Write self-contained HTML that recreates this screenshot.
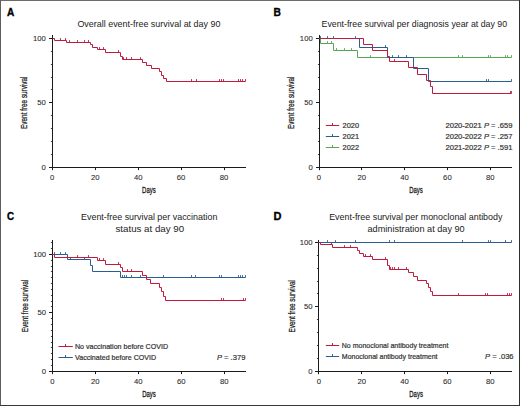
<!DOCTYPE html>
<html><head><meta charset="utf-8"><title>Event-free survival</title>
<style>html,body{margin:0;padding:0;background:#fff;width:520px;height:406px;overflow:hidden}
text{font-family:"Liberation Sans", sans-serif}</style></head><body>
<svg width="520" height="406" viewBox="0 0 520 406" style="display:block">
<g font-family='"Liberation Sans", sans-serif'>
<rect x="0" y="0" width="520" height="406" fill="#fff"/>
<path d="M52.5,35 V170.1" stroke="#1a1a1a" stroke-width="1" fill="none"/>
<path d="M52.0,167.5 H246" stroke="#1a1a1a" stroke-width="1" fill="none"/>
<path d=" M49.0,167.5 H52.5 M49.0,102.5 H52.5 M49.0,38.5 H52.5" stroke="#1a1a1a" stroke-width="1" fill="none"/>
<path d=" M50.9,154.5 H52.5 M50.9,141.5 H52.5 M50.9,128.5 H52.5 M50.9,115.5 H52.5 M50.9,89.5 H52.5 M50.9,77.5 H52.5 M50.9,64.5 H52.5 M50.9,51.5 H52.5" stroke="#1a1a1a" stroke-width="0.8" fill="none"/>
<path d=" M52.5,167.5 V170.1 M95.5,167.5 V170.1 M138.5,167.5 V170.1 M181.5,167.5 V170.1 M224.5,167.5 V170.1" stroke="#1a1a1a" stroke-width="1" fill="none"/>
<text x="45.900000000000006" y="170" font-size="7.7" text-anchor="end" font-weight="normal" fill="#2a2a2a" stroke="#2a2a2a" stroke-width="0.08">0</text>
<text x="45.900000000000006" y="105" font-size="7.7" text-anchor="end" font-weight="normal" fill="#2a2a2a" stroke="#2a2a2a" stroke-width="0.08">50</text>
<text x="45.900000000000006" y="41" font-size="7.7" text-anchor="end" font-weight="normal" fill="#2a2a2a" stroke="#2a2a2a" stroke-width="0.08">100</text>
<text x="52.2" y="180" font-size="7.7" text-anchor="middle" font-weight="normal" fill="#2a2a2a" stroke="#2a2a2a" stroke-width="0.08">0</text>
<text x="95.18" y="180" font-size="7.7" text-anchor="middle" font-weight="normal" fill="#2a2a2a" stroke="#2a2a2a" stroke-width="0.08">20</text>
<text x="138.16" y="180" font-size="7.7" text-anchor="middle" font-weight="normal" fill="#2a2a2a" stroke="#2a2a2a" stroke-width="0.08">40</text>
<text x="181.13" y="180" font-size="7.7" text-anchor="middle" font-weight="normal" fill="#2a2a2a" stroke="#2a2a2a" stroke-width="0.08">60</text>
<text x="224.11" y="180" font-size="7.7" text-anchor="middle" font-weight="normal" fill="#2a2a2a" stroke="#2a2a2a" stroke-width="0.08">80</text>
<text x="7.1" y="15.8" font-size="11" text-anchor="start" font-weight="bold" fill="#000" textLength="7.3" lengthAdjust="spacingAndGlyphs" stroke="#000" stroke-width="0.35">A</text>
<text x="148.9" y="27.4" font-size="9.8" text-anchor="middle" font-weight="normal" fill="#222" textLength="143" lengthAdjust="spacingAndGlyphs" >Overall event-free survival at day 90</text>
<text x="148.9" y="192.7" font-size="9.4" text-anchor="middle" fill="#1a1a1a" stroke="#1a1a1a" stroke-width="0.3" textLength="13.6" lengthAdjust="spacingAndGlyphs">Days</text>
<text transform="translate(27.0,102.7) rotate(-90)" x="0" y="0" font-size="9.3" text-anchor="middle" fill="#1a1a1a" stroke="#1a1a1a" stroke-width="0.25" textLength="52.4" lengthAdjust="spacingAndGlyphs">Event free survival</text>
<path d="M52.5,38.5 H54.5 V40.5 H66.5 V42.5 H90.5 V44.5 H92.5 V47.5 H97.5 V49.5 H105.5 V52.5 H120.5 V56.5 H122.5 V59.5 H142.5 V62.5 H146.5 V65.5 H151.5 V68.5 H159.5 V71.5 H161.5 V75.5 H163.5 V78.5 H166.5 V81.5 H245.5" fill="none" stroke="#c01b3e" stroke-width="1.0" stroke-linejoin="miter"/>
<path d="M60.5,40.5 v-2.4 M65.5,40.5 v-2.4" stroke="#c01b3e" stroke-width="0.9" fill="none"/>
<path d="M69.5,42.5 v-2.4 M77.5,42.5 v-2.4 M84.5,42.5 v-2.4 M88.5,42.5 v-2.4" stroke="#c01b3e" stroke-width="0.9" fill="none"/>
<path d="M99.5,49.5 v-2.4 M103.5,49.5 v-2.4" stroke="#c01b3e" stroke-width="0.9" fill="none"/>
<path d="M118.5,52.5 v-2.4" stroke="#c01b3e" stroke-width="0.9" fill="none"/>
<path d="M123.5,59.5 v-2.4 M126.5,59.5 v-2.4 M131.5,59.5 v-2.4 M140.5,59.5 v-2.4" stroke="#c01b3e" stroke-width="0.9" fill="none"/>
<path d="M191.5,81.5 v-2.4 M196.5,81.5 v-2.4 M219.5,81.5 v-2.4 M221.5,81.5 v-2.4 M223.5,81.5 v-2.4 M238.5,81.5 v-2.4 M240.5,81.5 v-2.4 M242.5,81.5 v-2.4 M245.5,81.5 v-2.4" stroke="#c01b3e" stroke-width="0.9" fill="none"/>
<path d="M319.5,35 V170.1" stroke="#1a1a1a" stroke-width="1" fill="none"/>
<path d="M319.0,167.5 H512" stroke="#1a1a1a" stroke-width="1" fill="none"/>
<path d=" M316.0,167.5 H319.5 M316.0,102.5 H319.5 M316.0,38.5 H319.5" stroke="#1a1a1a" stroke-width="1" fill="none"/>
<path d=" M317.9,154.5 H319.5 M317.9,141.5 H319.5 M317.9,128.5 H319.5 M317.9,115.5 H319.5 M317.9,89.5 H319.5 M317.9,77.5 H319.5 M317.9,64.5 H319.5 M317.9,51.5 H319.5" stroke="#1a1a1a" stroke-width="0.8" fill="none"/>
<path d=" M319.5,167.5 V170.1 M361.5,167.5 V170.1 M404.5,167.5 V170.1 M447.5,167.5 V170.1 M490.5,167.5 V170.1" stroke="#1a1a1a" stroke-width="1" fill="none"/>
<text x="312.7" y="170" font-size="7.7" text-anchor="end" font-weight="normal" fill="#2a2a2a" stroke="#2a2a2a" stroke-width="0.08">0</text>
<text x="312.7" y="105" font-size="7.7" text-anchor="end" font-weight="normal" fill="#2a2a2a" stroke="#2a2a2a" stroke-width="0.08">50</text>
<text x="312.7" y="41" font-size="7.7" text-anchor="end" font-weight="normal" fill="#2a2a2a" stroke="#2a2a2a" stroke-width="0.08">100</text>
<text x="319.0" y="180" font-size="7.7" text-anchor="middle" font-weight="normal" fill="#2a2a2a" stroke="#2a2a2a" stroke-width="0.08">0</text>
<text x="361.8" y="180" font-size="7.7" text-anchor="middle" font-weight="normal" fill="#2a2a2a" stroke="#2a2a2a" stroke-width="0.08">20</text>
<text x="404.6" y="180" font-size="7.7" text-anchor="middle" font-weight="normal" fill="#2a2a2a" stroke="#2a2a2a" stroke-width="0.08">40</text>
<text x="447.4" y="180" font-size="7.7" text-anchor="middle" font-weight="normal" fill="#2a2a2a" stroke="#2a2a2a" stroke-width="0.08">60</text>
<text x="490.2" y="180" font-size="7.7" text-anchor="middle" font-weight="normal" fill="#2a2a2a" stroke="#2a2a2a" stroke-width="0.08">80</text>
<text x="273.6" y="16.2" font-size="11" text-anchor="start" font-weight="bold" fill="#000" textLength="7.4" lengthAdjust="spacingAndGlyphs" stroke="#000" stroke-width="0.35">B</text>
<text x="414.3" y="27.4" font-size="9.8" text-anchor="middle" font-weight="normal" fill="#222" textLength="185.5" lengthAdjust="spacingAndGlyphs" >Event-free survival per diagnosis year at day 90</text>
<text x="416.0" y="192.7" font-size="9.4" text-anchor="middle" fill="#1a1a1a" stroke="#1a1a1a" stroke-width="0.3" textLength="13.6" lengthAdjust="spacingAndGlyphs">Days</text>
<text transform="translate(294.2,102.7) rotate(-90)" x="0" y="0" font-size="9.3" text-anchor="middle" fill="#1a1a1a" stroke="#1a1a1a" stroke-width="0.25" textLength="52.4" lengthAdjust="spacingAndGlyphs">Event free survival</text>
<path d="M319.5,38.5 H320.5 V43.5 H333.5 V50.5 H357.5 V57.5 H511.5" fill="none" stroke="#58a653" stroke-width="1.0" stroke-linejoin="miter"/>
<path d="M327.5,43.5 v-2.4 M331.5,43.5 v-2.4" stroke="#58a653" stroke-width="0.9" fill="none"/>
<path d="M336.5,50.5 v-2.4 M344.5,50.5 v-2.4 M351.5,50.5 v-2.4" stroke="#58a653" stroke-width="0.9" fill="none"/>
<path d="M370.5,57.5 v-2.4 M458.5,57.5 v-2.4 M462.5,57.5 v-2.4 M488.5,57.5 v-2.4 M490.5,57.5 v-2.4 M505.5,57.5 v-2.4 M507.5,57.5 v-2.4 M511.5,57.5 v-2.4" stroke="#58a653" stroke-width="0.9" fill="none"/>
<path d="M319.5,38.5 H359.5 V47.5 H387.5 V57.5 H413.5 V68.5 H428.5 V81.5 H511.5" fill="none" stroke="#2c5d90" stroke-width="1.0" stroke-linejoin="miter"/>
<path d="M385.5,47.5 v-2.4" stroke="#2c5d90" stroke-width="0.9" fill="none"/>
<path d="M392.5,57.5 v-2.4 M398.5,57.5 v-2.4 M406.5,57.5 v-2.4" stroke="#2c5d90" stroke-width="0.9" fill="none"/>
<path d="M486.5,81.5 v-2.4 M488.5,81.5 v-2.4 M511.5,81.5 v-2.4" stroke="#2c5d90" stroke-width="0.9" fill="none"/>
<path d="M319.5,38.5 H363.5 V44.5 H372.5 V50.5 H387.5 V56.5 H389.5 V61.5 H408.5 V67.5 H417.5 V74.5 H426.5 V80.5 H430.5 V86.5 H432.5 V93.5 H511.5" fill="none" stroke="#c01b3e" stroke-width="1.0" stroke-linejoin="miter"/>
<path d="M320.5,38.5 v-2.4 M327.5,38.5 v-2.4 M333.5,38.5 v-2.4 M355.5,38.5 v-2.4" stroke="#2c5d90" stroke-width="0.9" fill="none"/>
<path d="M394.5,61.5 v-2.4" stroke="#c01b3e" stroke-width="0.9" fill="none"/>
<path d="M510.5,93.5 v-2.4 M511.5,93.5 v-2.4" stroke="#c01b3e" stroke-width="0.9" fill="none"/>
<path d="M325.8,125.5 H339.2 M332.5,125.5 v-2.4" stroke="#c01b3e" stroke-width="1" fill="none"/>
<text x="342.6" y="128.1" font-size="7.4" text-anchor="start" font-weight="normal" fill="#333" stroke="#333" stroke-width="0.2">2020</text>
<path d="M325.8,136.5 H339.2 M332.5,136.5 v-2.4" stroke="#2c5d90" stroke-width="1" fill="none"/>
<text x="342.6" y="139.05" font-size="7.4" text-anchor="start" font-weight="normal" fill="#333" stroke="#333" stroke-width="0.2">2021</text>
<path d="M325.8,147.5 H339.2 M332.5,147.5 v-2.4" stroke="#58a653" stroke-width="1" fill="none"/>
<text x="342.6" y="150.0" font-size="7.4" text-anchor="start" font-weight="normal" fill="#333" stroke="#333" stroke-width="0.2">2022</text>
<text x="512.4" y="128.30" font-size="7.6" text-anchor="end" fill="#333" stroke="#333" stroke-width="0.2">2020-2021 <tspan font-style="italic">P</tspan> = .659</text>
<text x="512.4" y="139.10" font-size="7.6" text-anchor="end" fill="#333" stroke="#333" stroke-width="0.2">2020-2022 <tspan font-style="italic">P</tspan> = .257</text>
<text x="512.4" y="149.90" font-size="7.6" text-anchor="end" fill="#333" stroke="#333" stroke-width="0.2">2021-2022 <tspan font-style="italic">P</tspan> = .591</text>
<path d="M52.5,240 V374.1" stroke="#1a1a1a" stroke-width="1" fill="none"/>
<path d="M52.0,371.5 H246" stroke="#1a1a1a" stroke-width="1" fill="none"/>
<path d=" M49.0,371.5 H52.5 M49.0,312.5 H52.5 M49.0,254.5 H52.5" stroke="#1a1a1a" stroke-width="1" fill="none"/>
<path d=" M50.9,365.5 H52.5 M50.9,359.5 H52.5 M50.9,353.5 H52.5 M50.9,347.5 H52.5 M50.9,342.5 H52.5 M50.9,336.5 H52.5 M50.9,330.5 H52.5 M50.9,324.5 H52.5 M50.9,318.5 H52.5 M50.9,306.5 H52.5 M50.9,301.5 H52.5 M50.9,295.5 H52.5 M50.9,289.5 H52.5 M50.9,283.5 H52.5 M50.9,277.5 H52.5 M50.9,271.5 H52.5 M50.9,266.5 H52.5 M50.9,260.5 H52.5 M50.9,248.5 H52.5 M50.9,242.5 H52.5" stroke="#1a1a1a" stroke-width="0.8" fill="none"/>
<path d=" M52.5,371.5 V374.1 M95.5,371.5 V374.1 M138.5,371.5 V374.1 M181.5,371.5 V374.1 M224.5,371.5 V374.1" stroke="#1a1a1a" stroke-width="1" fill="none"/>
<text x="46.0" y="374" font-size="7.7" text-anchor="end" font-weight="normal" fill="#2a2a2a" stroke="#2a2a2a" stroke-width="0.08">0</text>
<text x="46.0" y="315" font-size="7.7" text-anchor="end" font-weight="normal" fill="#2a2a2a" stroke="#2a2a2a" stroke-width="0.08">50</text>
<text x="46.0" y="257" font-size="7.7" text-anchor="end" font-weight="normal" fill="#2a2a2a" stroke="#2a2a2a" stroke-width="0.08">100</text>
<text x="52.3" y="384" font-size="7.7" text-anchor="middle" font-weight="normal" fill="#2a2a2a" stroke="#2a2a2a" stroke-width="0.08">0</text>
<text x="95.28" y="384" font-size="7.7" text-anchor="middle" font-weight="normal" fill="#2a2a2a" stroke="#2a2a2a" stroke-width="0.08">20</text>
<text x="138.26" y="384" font-size="7.7" text-anchor="middle" font-weight="normal" fill="#2a2a2a" stroke="#2a2a2a" stroke-width="0.08">40</text>
<text x="181.23" y="384" font-size="7.7" text-anchor="middle" font-weight="normal" fill="#2a2a2a" stroke="#2a2a2a" stroke-width="0.08">60</text>
<text x="224.21" y="384" font-size="7.7" text-anchor="middle" font-weight="normal" fill="#2a2a2a" stroke="#2a2a2a" stroke-width="0.08">80</text>
<text x="6.9" y="219.9" font-size="11" text-anchor="start" font-weight="bold" fill="#000" textLength="7.1" lengthAdjust="spacingAndGlyphs" stroke="#000" stroke-width="0.35">C</text>
<text x="149.2" y="220.1" font-size="9.8" text-anchor="middle" font-weight="normal" fill="#222" textLength="136.3" lengthAdjust="spacingAndGlyphs" >Event-free survival per vaccination</text>
<text x="149.8" y="231.7" font-size="9.8" text-anchor="middle" font-weight="normal" fill="#222" textLength="68.6" lengthAdjust="spacingAndGlyphs" >status at day 90</text>
<text x="149.0" y="396.5" font-size="9.4" text-anchor="middle" fill="#1a1a1a" stroke="#1a1a1a" stroke-width="0.3" textLength="13.6" lengthAdjust="spacingAndGlyphs">Days</text>
<text transform="translate(27.6,306.0) rotate(-90)" x="0" y="0" font-size="9.3" text-anchor="middle" fill="#1a1a1a" stroke="#1a1a1a" stroke-width="0.25" textLength="52.4" lengthAdjust="spacingAndGlyphs">Event free survival</text>
<path d="M52.5,254.5 H67.5 V259.5 H90.5 V265.5 H92.5 V271.5 H120.5 V277.5 H245.5" fill="none" stroke="#2c5d90" stroke-width="1.0" stroke-linejoin="miter"/>
<path d="M54.5,254.5 v-2.4 M60.5,254.5 v-2.4 M65.5,254.5 v-2.4" stroke="#2c5d90" stroke-width="0.9" fill="none"/>
<path d="M70.5,259.5 v-2.4 M84.5,259.5 v-2.4" stroke="#2c5d90" stroke-width="0.9" fill="none"/>
<path d="M122.5,277.5 v-2.4 M124.5,277.5 v-2.4 M126.5,277.5 v-2.4 M131.5,277.5 v-2.4 M140.5,277.5 v-2.4 M163.5,277.5 v-2.4 M191.5,277.5 v-2.4 M195.5,277.5 v-2.4 M219.5,277.5 v-2.4 M221.5,277.5 v-2.4 M238.5,277.5 v-2.4 M240.5,277.5 v-2.4 M242.5,277.5 v-2.4 M245.5,277.5 v-2.4" stroke="#2c5d90" stroke-width="0.9" fill="none"/>
<path d="M52.5,254.5 H54.5 V257.5 H97.5 V260.5 H105.5 V264.5 H120.5 V267.5 H122.5 V271.5 H142.5 V275.5 H146.5 V279.5 H150.5 V283.5 H159.5 V287.5 H161.5 V291.5 H163.5 V296.5 H165.5 V300.5 H245.5" fill="none" stroke="#c01b3e" stroke-width="1.0" stroke-linejoin="miter"/>
<path d="M77.5,257.5 v-2.4 M88.5,257.5 v-2.4" stroke="#c01b3e" stroke-width="0.9" fill="none"/>
<path d="M99.5,260.5 v-2.4 M103.5,260.5 v-2.4" stroke="#c01b3e" stroke-width="0.9" fill="none"/>
<path d="M118.5,264.5 v-2.4" stroke="#c01b3e" stroke-width="0.9" fill="none"/>
<path d="M127.5,271.5 v-2.4 M131.5,271.5 v-2.4" stroke="#c01b3e" stroke-width="0.9" fill="none"/>
<path d="M221.5,300.5 v-2.4 M223.5,300.5 v-2.4 M243.5,300.5 v-2.4 M245.5,300.5 v-2.4" stroke="#c01b3e" stroke-width="0.9" fill="none"/>
<path d="M58.5,346.5 H72.8 M65.5,346.5 v-2.4" stroke="#c01b3e" stroke-width="1" fill="none"/>
<text x="75.0" y="349.3" font-size="7.1" text-anchor="start" font-weight="normal" fill="#333" stroke="#333" stroke-width="0.2">No vaccination before COVID</text>
<path d="M58.5,357.5 H72.8 M65.5,357.5 v-2.4" stroke="#2c5d90" stroke-width="1" fill="none"/>
<text x="75.0" y="359.9" font-size="7.1" text-anchor="start" font-weight="normal" fill="#333" stroke="#333" stroke-width="0.2">Vaccinated before COVID</text>
<text x="245.4" y="360.10" font-size="7.6" text-anchor="end" fill="#333" stroke="#333" stroke-width="0.2"><tspan font-style="italic">P</tspan> = .379</text>
<path d="M318.5,240 V374.1" stroke="#1a1a1a" stroke-width="1" fill="none"/>
<path d="M318.0,371.5 H512" stroke="#1a1a1a" stroke-width="1" fill="none"/>
<path d=" M315.0,371.5 H318.5 M315.0,306.5 H318.5 M315.0,242.5 H318.5" stroke="#1a1a1a" stroke-width="1" fill="none"/>
<path d=" M316.9,358.5 H318.5 M316.9,345.5 H318.5 M316.9,332.5 H318.5 M316.9,319.5 H318.5 M316.9,293.5 H318.5 M316.9,281.5 H318.5 M316.9,268.5 H318.5 M316.9,255.5 H318.5" stroke="#1a1a1a" stroke-width="0.8" fill="none"/>
<path d=" M318.5,371.5 V374.1 M361.5,371.5 V374.1 M404.5,371.5 V374.1 M447.5,371.5 V374.1 M490.5,371.5 V374.1" stroke="#1a1a1a" stroke-width="1" fill="none"/>
<text x="312.59999999999997" y="374" font-size="7.7" text-anchor="end" font-weight="normal" fill="#2a2a2a" stroke="#2a2a2a" stroke-width="0.08">0</text>
<text x="312.59999999999997" y="309" font-size="7.7" text-anchor="end" font-weight="normal" fill="#2a2a2a" stroke="#2a2a2a" stroke-width="0.08">50</text>
<text x="312.59999999999997" y="245" font-size="7.7" text-anchor="end" font-weight="normal" fill="#2a2a2a" stroke="#2a2a2a" stroke-width="0.08">100</text>
<text x="318.9" y="384" font-size="7.7" text-anchor="middle" font-weight="normal" fill="#2a2a2a" stroke="#2a2a2a" stroke-width="0.08">0</text>
<text x="361.72" y="384" font-size="7.7" text-anchor="middle" font-weight="normal" fill="#2a2a2a" stroke="#2a2a2a" stroke-width="0.08">20</text>
<text x="404.54" y="384" font-size="7.7" text-anchor="middle" font-weight="normal" fill="#2a2a2a" stroke="#2a2a2a" stroke-width="0.08">40</text>
<text x="447.37" y="384" font-size="7.7" text-anchor="middle" font-weight="normal" fill="#2a2a2a" stroke="#2a2a2a" stroke-width="0.08">60</text>
<text x="490.19" y="384" font-size="7.7" text-anchor="middle" font-weight="normal" fill="#2a2a2a" stroke="#2a2a2a" stroke-width="0.08">80</text>
<text x="273.6" y="219.9" font-size="11" text-anchor="start" font-weight="bold" fill="#000" stroke="#000" stroke-width="0.35">D</text>
<text x="415.8" y="220.0" font-size="9.8" text-anchor="middle" font-weight="normal" fill="#222" textLength="173.3" lengthAdjust="spacingAndGlyphs" >Event-free survival per monoclonal antibody</text>
<text x="416.1" y="231.6" font-size="9.8" text-anchor="middle" font-weight="normal" fill="#222" textLength="97.2" lengthAdjust="spacingAndGlyphs" >administration at day 90</text>
<text x="416.1" y="396.5" font-size="9.4" text-anchor="middle" fill="#1a1a1a" stroke="#1a1a1a" stroke-width="0.3" textLength="13.6" lengthAdjust="spacingAndGlyphs">Days</text>
<text transform="translate(295.0,306.3) rotate(-90)" x="0" y="0" font-size="9.3" text-anchor="middle" fill="#1a1a1a" stroke="#1a1a1a" stroke-width="0.25" textLength="52.4" lengthAdjust="spacingAndGlyphs">Event free survival</text>
<path d="M318.5,242.5 H511.5" fill="none" stroke="#2c5d90" stroke-width="1.0" stroke-linejoin="miter"/>
<path d="M327.5,242.5 v-2.4 M335.5,242.5 v-2.4 M355.5,242.5 v-2.4 M389.5,242.5 v-2.4 M394.5,242.5 v-2.4 M462.5,242.5 v-2.4 M488.5,242.5 v-2.4 M490.5,242.5 v-2.4 M505.5,242.5 v-2.4 M511.5,242.5 v-2.4" stroke="#2c5d90" stroke-width="0.9" fill="none"/>
<path d="M318.5,242.5 H320.5 V244.5 H332.5 V247.5 H357.5 V250.5 H359.5 V253.5 H363.5 V256.5 H372.5 V259.5 H387.5 V265.5 H389.5 V269.5 H408.5 V272.5 H413.5 V276.5 H417.5 V280.5 H426.5 V283.5 H428.5 V287.5 H430.5 V291.5 H432.5 V295.5 H511.5" fill="none" stroke="#c01b3e" stroke-width="1.0" stroke-linejoin="miter"/>
<path d="M331.5,244.5 v-2.4" stroke="#c01b3e" stroke-width="0.9" fill="none"/>
<path d="M344.5,247.5 v-2.4 M350.5,247.5 v-2.4" stroke="#c01b3e" stroke-width="0.9" fill="none"/>
<path d="M365.5,256.5 v-2.4 M370.5,256.5 v-2.4" stroke="#c01b3e" stroke-width="0.9" fill="none"/>
<path d="M385.5,259.5 v-2.4" stroke="#c01b3e" stroke-width="0.9" fill="none"/>
<path d="M390.5,269.5 v-2.4 M392.5,269.5 v-2.4 M394.5,269.5 v-2.4 M398.5,269.5 v-2.4 M406.5,269.5 v-2.4" stroke="#c01b3e" stroke-width="0.9" fill="none"/>
<path d="M458.5,295.5 v-2.4 M485.5,295.5 v-2.4 M487.5,295.5 v-2.4 M507.5,295.5 v-2.4 M509.5,295.5 v-2.4 M511.5,295.5 v-2.4" stroke="#c01b3e" stroke-width="0.9" fill="none"/>
<path d="M325.8,345.5 H339.2 M332.5,345.5 v-2.4" stroke="#c01b3e" stroke-width="1" fill="none"/>
<text x="341.8" y="348.1" font-size="7.0" text-anchor="start" font-weight="normal" fill="#333" stroke="#333" stroke-width="0.2">No monoclonal antibody treatment</text>
<path d="M325.8,356.5 H339.2 M332.5,356.5 v-2.4" stroke="#2c5d90" stroke-width="1" fill="none"/>
<text x="341.8" y="359.1" font-size="7.0" text-anchor="start" font-weight="normal" fill="#333" stroke="#333" stroke-width="0.2">Monoclonal antibody treatment</text>
<text x="513.6" y="358.90" font-size="7.6" text-anchor="end" fill="#333" stroke="#333" stroke-width="0.2"><tspan font-style="italic">P</tspan> = .036</text>
<path d="M0,0.5 H520" stroke="#6c6c6c" stroke-width="1"/>
<path d="M0.5,0 V406" stroke="#5e5e5e" stroke-width="1"/>
<path d="M0,405.5 H520" stroke="#383838" stroke-width="1"/>
<path d="M519.5,0 V406" stroke="#303030" stroke-width="1"/>
</g></svg>
</body></html>
